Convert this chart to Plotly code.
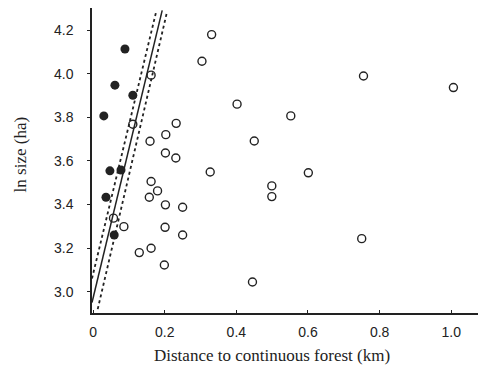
import plotly.graph_objects as go

# Filled points (fragments close to forest)
filled_x = [0.089, 0.061, 0.111, 0.030, 0.047, 0.078, 0.036, 0.059]
filled_y = [4.113, 3.947, 3.901, 3.806, 3.554, 3.558, 3.433, 3.260]

# Open points
open_x = [0.331, 0.304, 0.162, 0.402, 0.111, 0.232, 0.203, 0.159, 0.202, 0.231,
          0.327, 0.162, 0.180, 0.157, 0.202, 0.250, 0.057, 0.086, 0.201, 0.250,
          0.162, 0.129, 0.199, 0.755, 1.006, 0.552, 0.450, 0.601, 0.499, 0.499,
          0.750, 0.445]
open_y = [4.179, 4.057, 3.993, 3.860, 3.768, 3.772, 3.720, 3.690, 3.636, 3.613,
          3.549, 3.505, 3.462, 3.433, 3.398, 3.387, 3.337, 3.298, 3.295, 3.260,
          3.199, 3.179, 3.122, 3.989, 3.936, 3.806, 3.691, 3.545, 3.485, 3.436,
          3.243, 3.044]

# Regression line and confidence limits
fit_x = [-0.003, 0.193]
fit_y = [2.95, 4.29]
upper_x = [-0.003, 0.177]
upper_y = [3.06, 4.29]
lower_x = [0.013, 0.206]
lower_y = [2.92, 4.28]

x_ticks = [0, 0.2, 0.4, 0.6, 0.8, 1.0]
x_labels = ["0", "0.2", "0.4", "0.6", "0.8", "1.0"]
y_ticks = [3.0, 3.2, 3.4, 3.6, 3.8, 4.0, 4.2]
y_labels = ["3.0", "3.2", "3.4", "3.6", "3.8", "4.0", "4.2"]

ink = "#222222"
fig = go.Figure()
fig.add_trace(go.Scatter(x=fit_x, y=fit_y, mode="lines",
                         line=dict(color=ink, width=1.5), showlegend=False))
fig.add_trace(go.Scatter(x=upper_x, y=upper_y, mode="lines",
                         line=dict(color=ink, width=1.8, dash="dot"), showlegend=False))
fig.add_trace(go.Scatter(x=lower_x, y=lower_y, mode="lines",
                         line=dict(color=ink, width=1.8, dash="dot"), showlegend=False))
fig.add_trace(go.Scatter(x=open_x, y=open_y, mode="markers",
                         marker=dict(symbol="circle-open", size=8, color=ink,
                                     line=dict(width=1.4, color=ink)),
                         showlegend=False))
fig.add_trace(go.Scatter(x=filled_x, y=filled_y, mode="markers",
                         marker=dict(symbol="circle", size=9, color=ink),
                         showlegend=False))

# The page body has an 8px margin, so the figure is sized to fill the rest.
fig.update_layout(
    width=478, height=363,
    margin=dict(l=84, r=0, t=0, b=58),
    paper_bgcolor="white", plot_bgcolor="white",
    font=dict(family="Liberation Sans", size=14, color=ink),
    xaxis=dict(range=[-0.003, 1.097], tickvals=x_ticks, ticktext=x_labels,
               showgrid=False, zeroline=False, showline=True, linecolor=ink,
               linewidth=1.5, ticks="inside", ticklen=3, tickcolor=ink,
               ticklabelstandoff=5),
    yaxis=dict(range=[2.902, 4.301], tickvals=y_ticks, ticktext=y_labels,
               showgrid=False, zeroline=False, showline=True, linecolor=ink,
               linewidth=1.5, ticks="outside", ticklen=3, tickcolor=ink,
               ticklabelstandoff=11),
    annotations=[
        dict(text="Distance to continuous forest (km)", xref="paper", yref="paper",
             x=0.458, y=0, yshift=-42, showarrow=False, xanchor="center",
             yanchor="middle", font=dict(family="Liberation Serif", size=17, color=ink)),
        dict(text="ln size (ha)", xref="paper", yref="paper", x=0, xshift=-72,
             y=0.52, showarrow=False, textangle=-90, xanchor="center",
             yanchor="middle", font=dict(family="Liberation Serif", size=17, color=ink)),
    ],
)

fig.write_html("out.html")
